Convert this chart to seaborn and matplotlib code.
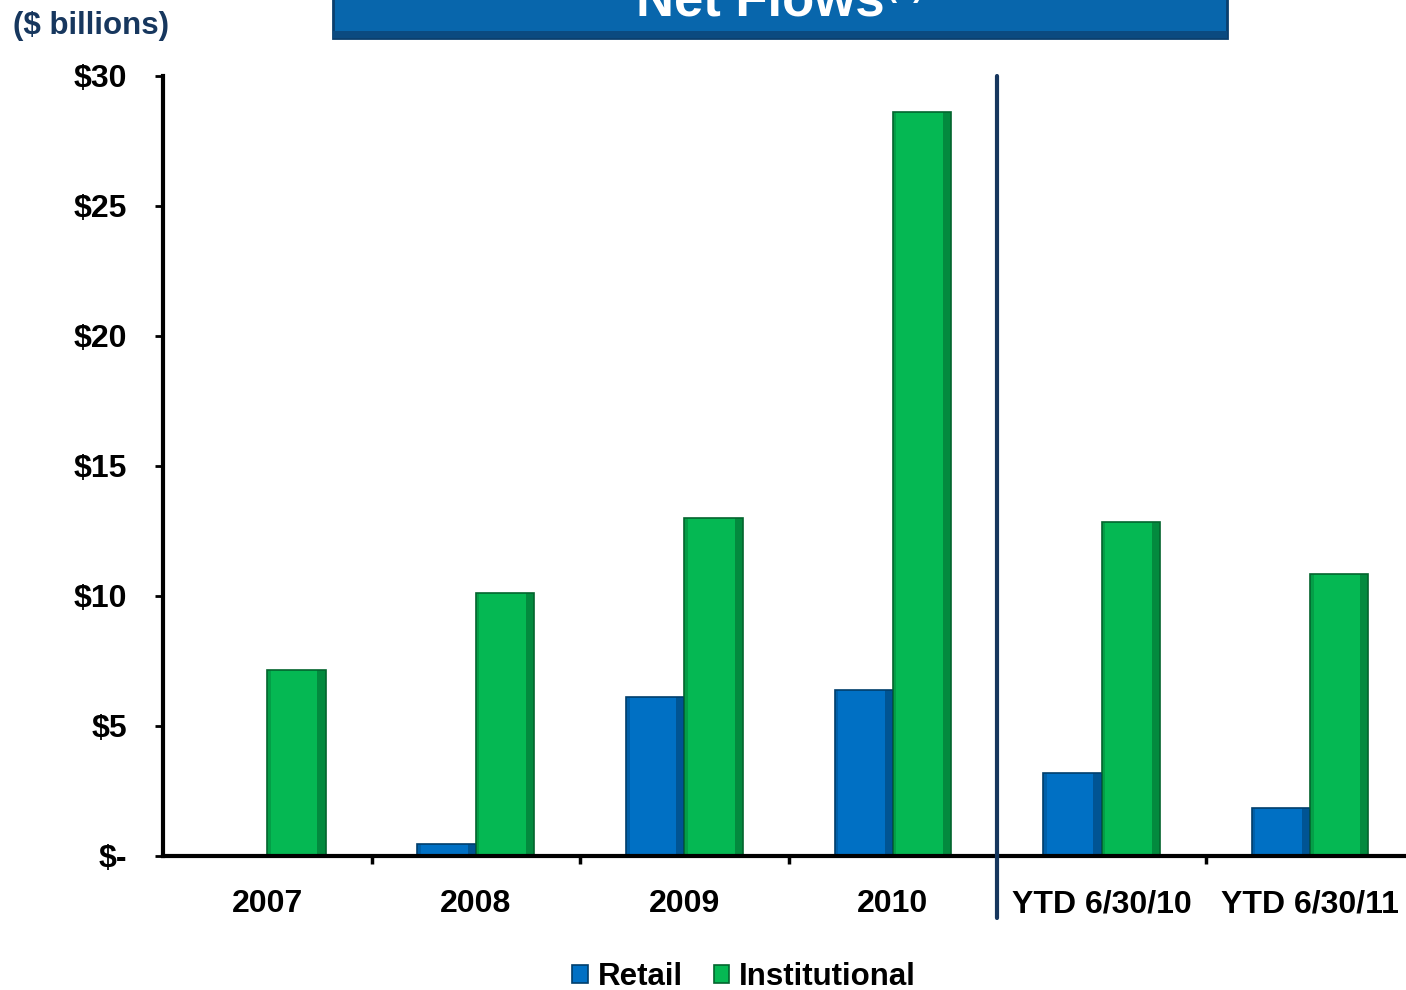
import pandas as pd
import matplotlib.pyplot as plt
from matplotlib.patches import Rectangle
import seaborn as sns

# Chart data ($ billions)
categories = ['2007', '2008', '2009', '2010', 'YTD 6/30/10', 'YTD 6/30/11']
retail = [0.0, 0.45, 6.1, 6.4, 3.2, 1.85]
institutional = [7.15, 10.1, 13.0, 28.6, 12.85, 10.85]
series_names = ['Retail', 'Institutional']
ytick_values = [0, 5, 10, 15, 20, 25, 30]
ytick_labels = ['$-', '$5', '$10', '$15', '$20', '$25', '$30']

df = pd.DataFrame({
    'category': categories * 2,
    'series': [series_names[0]] * len(categories) + [series_names[1]] * len(categories),
    'value': retail + institutional,
})

sns.set_style('white')
plt.rcParams['font.family'] = ['Liberation Sans', 'DejaVu Sans']
plt.rcParams['font.weight'] = 'bold'
plt.rcParams['text.color'] = 'black'

BLUE = '#0070C4'
GREEN = '#05B853'
NAVY = '#17375E'

fig = plt.figure(figsize=(14.06, 9.9), dpi=100)
ax = fig.add_axes([163 / 1406, 1 - 856 / 990, 1 - 163 / 1406, 780 / 990])

sns.barplot(data=df, x='category', y='value', hue='series', order=categories,
            hue_order=series_names, palette=[BLUE, GREEN], width=0.56,
            saturation=1, ax=ax)

# darker rims and a shaded right side to hint at the bevelled bars
for bar in list(ax.patches):
    fc = bar.get_facecolor()
    dark = (fc[0] * 0.55, fc[1] * 0.55, fc[2] * 0.55, 1)
    bar.set_edgecolor(dark)
    bar.set_linewidth(1.2)
    h = bar.get_height()
    if h <= 0:
        continue
    w = bar.get_width()
    x0 = bar.get_x()
    ax.add_patch(Rectangle((x0 + w * 0.86, 0), w * 0.14, h, facecolor=dark,
                           alpha=0.55, edgecolor='none', zorder=bar.get_zorder() + 0.1))
    ax.add_patch(Rectangle((x0, 0), w * 0.06, h, facecolor=dark,
                           alpha=0.3, edgecolor='none', zorder=bar.get_zorder() + 0.1))

ax.set_xlim(-0.5, 5.46)
ax.set_ylim(0, 30)
ax.set_xlabel('')
ax.set_ylabel('')

ax.set_yticks(ytick_values)
ax.set_yticklabels(ytick_labels)
ax.tick_params(axis='y', length=6, width=2, color='black', pad=20,
               labelsize=23, labelcolor='black', direction='out', left=True)

ax.set_xticks(range(len(categories)))
ax.set_xticklabels(categories)
ax.tick_params(axis='x', which='major', length=0, pad=24, labelsize=23,
               labelcolor='black')
ax.set_xticks([0.5, 1.5, 2.5, 4.5], minor=True)
ax.tick_params(axis='x', which='minor', length=6, width=2.5, color='black',
               direction='out', bottom=True)

for lab in ax.get_xticklabels() + ax.get_yticklabels():
    lab.set_fontweight('bold')

sns.despine(ax=ax, top=True, right=True)
for side in ['left', 'bottom']:
    ax.spines[side].set_color('black')
    ax.spines[side].set_linewidth(3)

# divider between annual and YTD figures
ax.axvline(3.5, ymin=-62 / 780, ymax=1, color=NAVY, lw=3, clip_on=False, zorder=5)

# legend at the bottom
handles, labels = ax.get_legend_handles_labels()
ax.get_legend().remove()
fig.legend(handles, labels, loc='center', bbox_to_anchor=(744 / 1406, 1 - 977 / 990),
           ncol=2, frameon=False, handlelength=0.5, handleheight=0.5,
           handletextpad=0.3, columnspacing=1.0, labelcolor='black',
           prop={'size': 22.5, 'weight': 'bold'})

# units label
fig.text(13 / 1406, 1 - 26 / 990, '($ billions)', color=NAVY, fontsize=22.5,
         fontweight='bold', ha='left', va='center')

# title banner, clipped by the top of the image as in the original slide
fig.patches.append(Rectangle((333 / 1406, 1 - 38 / 990), (1227 - 333) / 1406, 60 / 990,
                             transform=fig.transFigure, facecolor='#0866AC',
                             edgecolor='#0A3F6E', linewidth=2, zorder=0))
fig.patches.append(Rectangle((333 / 1406, 1 - 38 / 990), (1227 - 333) / 1406, 7 / 990,
                             transform=fig.transFigure, facecolor='#0B4A80',
                             edgecolor='none', zorder=1))
fig.text(760 / 1406, 1 - 15 / 990, 'Net Flows', color='white', fontsize=38,
         fontweight='bold', ha='center', va='baseline', zorder=3)
fig.text(886 / 1406, 1 + 4 / 990, '(1)', color='white', fontsize=22,
         fontweight='bold', ha='left', va='baseline', zorder=3)

fig.savefig('out.png', dpi=100)
